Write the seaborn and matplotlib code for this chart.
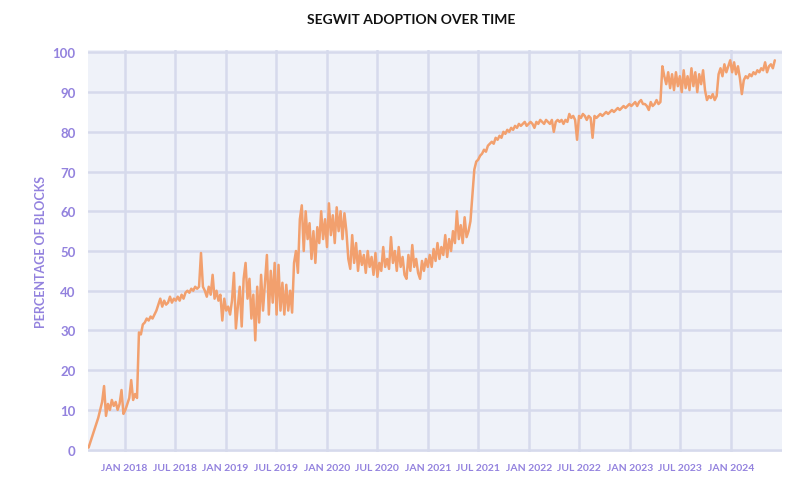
import numpy as np
import pandas as pd
import matplotlib
matplotlib.use("Agg")
import matplotlib.pyplot as plt
import seaborn as sns

# ---- data (weekly readings, % of blocks with segwit) ----
start_date = "2017-08-24"
segwit_pct = [
    0.5, 2, 3.5, 5, 6.5, 8, 10, 12, 16, 8.5,
    11.5, 10, 12.5, 11, 12, 10, 11.5, 15, 9, 10,
    11.5, 13, 17.5, 12.5, 14, 13, 29.5, 29, 31.5, 32,
    33, 32.5, 33.5, 33, 34, 35, 36.5, 38, 36, 37.5,
    36.5, 37, 38.5, 37, 38, 37.5, 38.5, 37.5, 39, 38,
    39.5, 40, 39.5, 40.5, 40, 41, 40.5, 41, 49.5, 41,
    40, 38.5, 41, 39, 44, 38, 40, 37.5, 39, 32.5,
    38, 35, 36, 34, 37.5, 44.5, 30.5, 36, 41, 31,
    43, 47, 38, 43, 33, 39, 27.5, 41, 32, 44,
    35, 42, 49, 34, 45, 37, 47, 34, 46.5, 35,
    42, 34, 41.5, 35, 40, 34.5, 47, 50, 44.5, 58,
    61.5, 50, 60, 53, 57, 48, 55, 47, 56, 52,
    60, 53, 58, 51, 62, 54, 59, 52, 61, 55,
    60, 53, 59.5, 55, 48, 45.5, 54, 47, 52, 45,
    50, 46.5, 49, 44.5, 50, 46, 48.5, 44, 49.5, 43.5,
    47, 45, 51, 46, 48, 45.5, 53.5, 47, 50, 45,
    51, 46, 48.5, 44, 43, 49, 45, 51.5, 46, 48,
    44.5, 43, 47.5, 45, 48, 46, 49, 46, 50.5, 47.5,
    52, 48, 51, 49, 54, 48.5, 53, 50, 55, 52,
    60, 53, 56.5, 52, 58.5, 53.5, 55, 57.5, 64, 70.5,
    72.5, 73, 74, 74.5, 75.5, 75, 76.5, 77, 77.5, 77,
    78.5, 78, 79, 78.5, 80, 79.5, 80.5, 80, 81, 80.5,
    81.5, 81, 82, 81.5, 82, 82.5, 81.5, 82, 82.5, 82,
    81, 82.5, 82, 83, 82.5, 82, 83, 82.5, 82, 83,
    80, 82.5, 83, 82.5, 83, 82, 83, 82.5, 84.5, 83.5,
    84, 83, 78, 84, 83.5, 84.5, 84, 83, 84, 83.5,
    78.5, 84, 83.5, 84, 84.5, 84, 84.5, 85, 84.5, 85,
    85.5, 85, 85.5, 86, 85.5, 86, 86.5, 86, 86.5, 87,
    86.5, 87, 87.5, 86.5, 87.5, 88, 87, 87, 86.5, 85.5,
    87.5, 86.5, 87, 88, 87, 87.5, 96.5, 94, 92, 95,
    91, 94.5, 90.5, 95, 91.5, 94, 90, 95.5, 91, 94,
    90.5, 96, 91.5, 95, 90, 94.5, 92, 95.5, 90.5, 88,
    89, 88.5, 89.5, 88, 89, 94.5, 96, 94, 97, 95,
    96.5, 98, 95, 97.5, 94.5, 96.5, 93.5, 89.5, 93, 94,
    93.5, 94.5, 94, 95, 94.5, 95.5, 95, 96, 95.5, 97.5,
    95, 96.5, 97, 96, 98,
]
tick_dates = ["2018-01-01", "2018-07-01", "2019-01-01", "2019-07-01", "2020-01-01",
              "2020-07-01", "2021-01-01", "2021-07-01", "2022-01-01", "2022-07-01",
              "2023-01-01", "2023-07-01", "2024-01-01"]
tick_labels = ["JAN 2018", "JUL 2018", "JAN 2019", "JUL 2019", "JAN 2020",
               "JUL 2020", "JAN 2021", "JUL 2021", "JAN 2022", "JUL 2022",
               "JAN 2023", "JUL 2023", "JAN 2024"]
y_ticks = [0, 10, 20, 30, 40, 50, 60, 70, 80, 90, 100]

df = pd.DataFrame({
    "date": pd.date_range(start_date, periods=len(segwit_pct), freq="7D"),
    "pct": segwit_pct,
})

sns.set_theme(style="white")
plt.rcParams["font.family"] = ["Lato", "DejaVu Sans"]

purple = "#9382DE"
grid_c = "#D6DAEC"
bg_c = "#EFF2F9"
line_c = "#F2A06E"

fig = plt.figure(figsize=(8.04, 4.85), dpi=100)
ax = fig.add_axes([88 / 804, 1 - 453 / 485, (782 - 88) / 804, (453 - 51) / 485])
ax.set_facecolor(bg_c)

sns.lineplot(data=df, x="date", y="pct", ax=ax, color=line_c, linewidth=1.8)

ax.set_xlim(pd.Timestamp("2017-08-22"), pd.Timestamp("2024-07-02"))
ax.set_ylim(-0.6, 100.6)
ax.set_yticks(y_ticks)
ax.set_yticklabels([str(v) for v in y_ticks])
ax.set_xticks(pd.to_datetime(tick_dates))
ax.set_xticklabels(tick_labels)

ax.grid(True, color=grid_c, linewidth=1.8)
ax.set_axisbelow(True)
for s in ax.spines.values():
    s.set_visible(False)
ax.tick_params(axis="both", length=0, colors=purple)
ax.tick_params(axis="y", pad=9, labelsize=9.5)
ax.tick_params(axis="x", pad=8, labelsize=7.5)
for lab in ax.get_xticklabels() + ax.get_yticklabels():
    lab.set_fontweight("bold")

ax.set_xlabel("")
ax.set_ylabel("PERCENTAGE OF BLOCKS", color=purple, fontsize=9, fontweight="bold", labelpad=4)
fig.text(0.511, 1 - 20 / 485, "SEGWIT ADOPTION OVER TIME", ha="center", va="center",
         fontsize=10, fontweight="bold", color="#111111")

fig.savefig("out.png", dpi=100)
